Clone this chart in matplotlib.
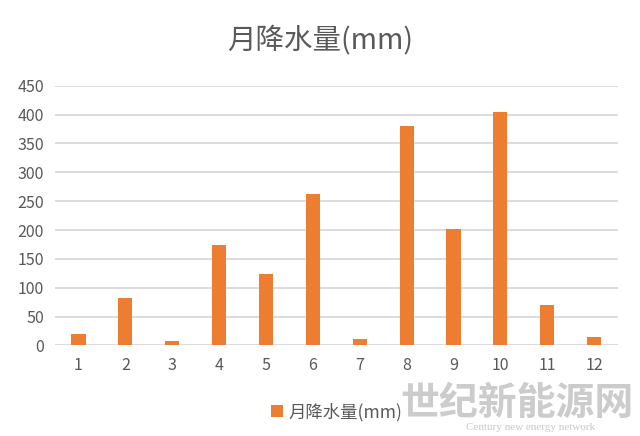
import numpy as np
import matplotlib.pyplot as plt

plt.rcParams['font.family'] = ['Noto Sans CJK SC', 'DejaVu Sans']

months = ['1', '2', '3', '4', '5', '6', '7', '8', '9', '10', '11', '12']
rain = [20, 83, 7, 174, 124, 263, 11, 381, 201, 405, 70, 15]
yticks = [0, 50, 100, 150, 200, 250, 300, 350, 400, 450]
label = '月降水量(mm)'

fig = plt.figure(figsize=(6.4, 4.36), dpi=100)
ax = fig.add_axes([0.086, 0.2076, 0.879, 0.5958])

x = np.arange(len(months))
ax.bar(x, rain, width=0.3, color='#ED7D31', label=label, zorder=3)

ax.set_xlim(-0.5, len(months) - 0.5)
ax.set_ylim(0, 450)
ax.set_yticks(yticks)
ax.set_xticks(x)
ax.set_xticklabels(months)
ax.grid(axis='y', color='#d9d9d9', linewidth=1.3, zorder=0)
for s in ax.spines.values():
    s.set_visible(False)
ax.tick_params(length=0, colors='#595959', labelsize=11.5)
ax.tick_params(axis='x', pad=8)
ax.tick_params(axis='y', pad=8)

fig.text(0.5, 0.907, label, ha='center', va='center', fontsize=20.5, color='#595959')

leg = ax.legend(loc='center', bbox_to_anchor=(0.5, -0.255), frameon=False,
                fontsize=12.5, handlelength=0.7, handleheight=0.7, handletextpad=0.3)
for t in leg.get_texts():
    t.set_color('#595959')

# watermark
fig.text(0.99, 0.075, '世纪新能源网', ha='right', va='center', fontsize=28,
         color='#cccccc', fontweight='bold')
fig.text(0.93, 0.02, 'Century new energy network', ha='right', va='center',
         fontsize=8, color='#c8c8c8', family='Liberation Serif')

fig.savefig('out.png', dpi=100)
